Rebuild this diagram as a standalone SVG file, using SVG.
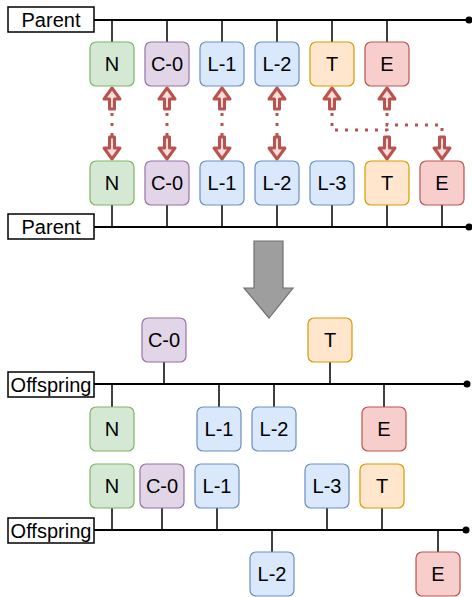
<svg xmlns="http://www.w3.org/2000/svg" width="472" height="597" viewBox="0 0 472 597">
<style>
text{font-family:"Liberation Sans",Arial,sans-serif;font-size:20px;fill:#000;text-anchor:middle;dominant-baseline:central}
.n{stroke-width:1.2}
.g{fill:#d5e8d4;stroke:#82b366}
.p{fill:#e1d5e7;stroke:#9673a6}
.b{fill:#dae8fc;stroke:#6c8ebf}
.o{fill:#ffe6cc;stroke:#d79b00}
.r{fill:#f8cecc;stroke:#b85450}
.lbl{fill:#fff;stroke:#000;stroke-width:1.5}
.bus{stroke:#000;stroke-width:2;fill:none}
.tie{stroke:#000;stroke-width:1.5;fill:none}
.dot{stroke:#b85450;stroke-width:3;fill:none;stroke-dasharray:3 7}
.arr{fill:#fbdcdb;stroke:#b85450;stroke-width:3;stroke-linejoin:round}
</style>
<defs>
<polygon id="up" points="0,0 8,11 2.5,11 2.5,21 -2.5,21 -2.5,11 -8,11" class="arr"/>
<polygon id="dn" points="0,0 8,-11 2.5,-11 2.5,-22 -2.5,-22 -2.5,-11 -8,-11" class="arr"/>
</defs>

<g id="connectors">
<path class="bus" d="M94 20H469"/>
<circle cx="469" cy="20" r="3.5" fill="#000"/>
<path class="tie" d="M112 20V42M167 20V42M222 20V42M277 20V42M332 20V42M387 20V42"/>
<path class="bus" d="M94 227H469"/>
<circle cx="469" cy="227" r="3.5" fill="#000"/>
<path class="tie" d="M112 205V227M167 205V227M222 205V227M277 205V227M332 205V227M387 205V227M442 205V227"/>
<path class="dot" d="M112 113V137M167 113V137M222 113V137M277 113V137"/>
<path class="dot" d="M332 113V130H387V137"/>
<path class="dot" d="M387 113V125H442V137"/>
<use href="#up" x="112" y="88"/><use href="#up" x="167" y="88"/><use href="#up" x="222" y="88"/>
<use href="#up" x="277" y="88"/><use href="#up" x="332" y="88"/><use href="#up" x="387" y="88"/>
<use href="#dn" x="112" y="159"/><use href="#dn" x="167" y="159"/><use href="#dn" x="222" y="159"/>
<use href="#dn" x="277" y="159"/><use href="#dn" x="387" y="159"/><use href="#dn" x="442" y="159"/>
<path class="bus" d="M94 384H467"/>
<circle cx="467" cy="384" r="3.5" fill="#000"/>
<path class="tie" d="M164 362V384M330 362V384M112 384V407M219 384V407M274 384V407M384 384V407"/>
<path class="bus" d="M94 530H466"/>
<circle cx="466" cy="530" r="3.5" fill="#000"/>
<path class="tie" d="M112 508V530M162 508V530M217 508V530M327 508V530M382 508V530M272 530V552M438 530V552"/>
</g>

<g id="big-arrow">
<polygon points="254,241 283,241 283,288 293,288 269,318 244,288 254,288" fill="#9e9e9e" stroke="#707070" stroke-width="1.2"/>
</g>

<g id="parent-top"><rect class="lbl" x="8" y="7" width="86" height="25"/><text x="51" y="20">Parent</text></g>
<g id="parent-bottom"><rect class="lbl" x="8" y="214" width="86" height="25"/><text x="51" y="227">Parent</text></g>
<g id="offspring-1"><rect class="lbl" x="8" y="372" width="86" height="25"/><text x="51" y="385">Offspring</text></g>
<g id="offspring-2"><rect class="lbl" x="8" y="518" width="86" height="25"/><text x="51" y="531">Offspring</text></g>

<g id="p1-N"><rect class="n g" x="90" y="42" width="44" height="44" rx="6"/><text x="112" y="64">N</text></g>
<g id="p1-C0"><rect class="n p" x="145" y="42" width="44" height="44" rx="6"/><text x="167" y="64">C-0</text></g>
<g id="p1-L1"><rect class="n b" x="200" y="42" width="44" height="44" rx="6"/><text x="222" y="64">L-1</text></g>
<g id="p1-L2"><rect class="n b" x="255" y="42" width="44" height="44" rx="6"/><text x="277" y="64">L-2</text></g>
<g id="p1-T"><rect class="n o" x="310" y="42" width="44" height="44" rx="6"/><text x="332" y="64">T</text></g>
<g id="p1-E"><rect class="n r" x="365" y="42" width="44" height="44" rx="6"/><text x="387" y="64">E</text></g>

<g id="p2-N"><rect class="n g" x="90" y="161" width="44" height="44" rx="6"/><text x="112" y="183">N</text></g>
<g id="p2-C0"><rect class="n p" x="145" y="161" width="44" height="44" rx="6"/><text x="167" y="183">C-0</text></g>
<g id="p2-L1"><rect class="n b" x="200" y="161" width="44" height="44" rx="6"/><text x="222" y="183">L-1</text></g>
<g id="p2-L2"><rect class="n b" x="255" y="161" width="44" height="44" rx="6"/><text x="277" y="183">L-2</text></g>
<g id="p2-L3"><rect class="n b" x="310" y="161" width="44" height="44" rx="6"/><text x="332" y="183">L-3</text></g>
<g id="p2-T"><rect class="n o" x="365" y="161" width="44" height="44" rx="6"/><text x="387" y="183">T</text></g>
<g id="p2-E"><rect class="n r" x="420" y="161" width="44" height="44" rx="6"/><text x="442" y="183">E</text></g>

<g id="o1-C0"><rect class="n p" x="142" y="318" width="44" height="44" rx="6"/><text x="164" y="340">C-0</text></g>
<g id="o1-T"><rect class="n o" x="308" y="318" width="44" height="44" rx="6"/><text x="330" y="340">T</text></g>
<g id="o1-N"><rect class="n g" x="90" y="407" width="44" height="44" rx="6"/><text x="112" y="429">N</text></g>
<g id="o1-L1"><rect class="n b" x="197" y="407" width="44" height="44" rx="6"/><text x="219" y="429">L-1</text></g>
<g id="o1-L2"><rect class="n b" x="252" y="407" width="44" height="44" rx="6"/><text x="274" y="429">L-2</text></g>
<g id="o1-E"><rect class="n r" x="362" y="407" width="44" height="44" rx="6"/><text x="384" y="429">E</text></g>

<g id="o2-N"><rect class="n g" x="90" y="464" width="44" height="44" rx="6"/><text x="112" y="486">N</text></g>
<g id="o2-C0"><rect class="n p" x="140" y="464" width="44" height="44" rx="6"/><text x="162" y="486">C-0</text></g>
<g id="o2-L1"><rect class="n b" x="195" y="464" width="44" height="44" rx="6"/><text x="217" y="486">L-1</text></g>
<g id="o2-L3"><rect class="n b" x="305" y="464" width="44" height="44" rx="6"/><text x="327" y="486">L-3</text></g>
<g id="o2-T"><rect class="n o" x="360" y="464" width="44" height="44" rx="6"/><text x="382" y="486">T</text></g>
<g id="o2-L2"><rect class="n b" x="250" y="552" width="44" height="44" rx="6"/><text x="272" y="574">L-2</text></g>
<g id="o2-E"><rect class="n r" x="416" y="552" width="44" height="44" rx="6"/><text x="438" y="574">E</text></g>
</svg>
